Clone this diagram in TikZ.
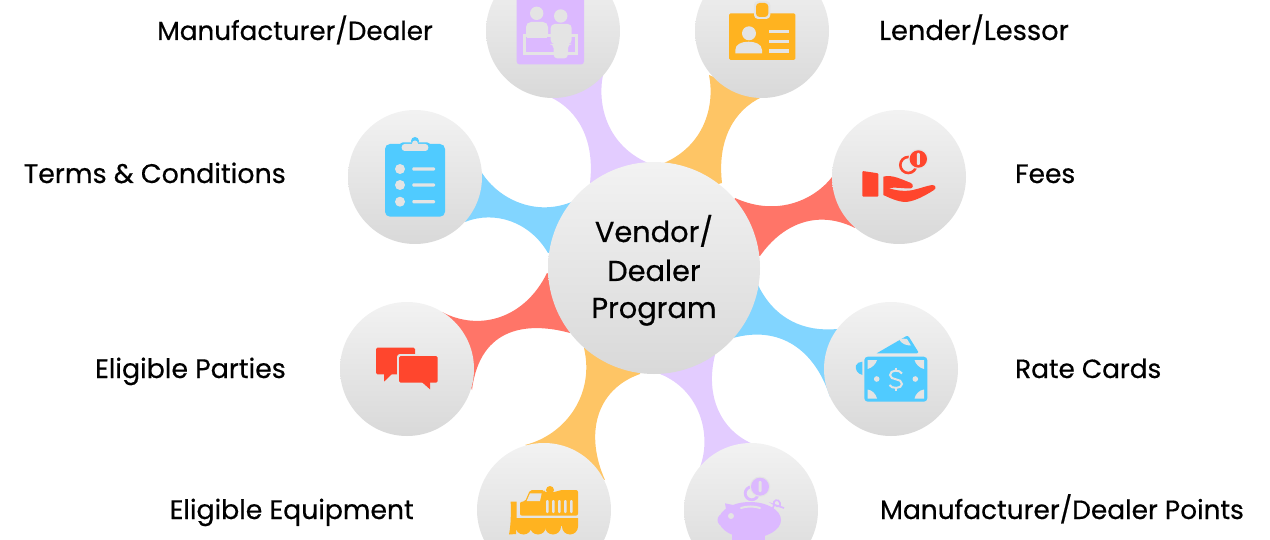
\documentclass[tikz,border=0pt]{standalone}
\usepackage{fontspec}
\setmainfont[RawFeature={embolden=0.5}]{Poppins}
\definecolor{cPur}{HTML}{E3CCFF}\definecolor{cOra}{HTML}{FEC565}
\definecolor{cCor}{HTML}{FF7568}\definecolor{cBlu}{HTML}{82D5FF}
\definecolor{iPur}{HTML}{DCB9FF}\definecolor{iOra}{HTML}{FFB320}
\definecolor{iRed}{HTML}{FF462D}\definecolor{iBlu}{HTML}{50CBFF}
\definecolor{hole}{HTML}{E4E4E4}
\newcommand{\fsz}[1]{\fontsize{#1pt}{32pt}\selectfont}
\tikzset{
 hub/.style={circle,inner sep=0pt,minimum size=134pt,top color=black!5,bottom color=black!15},
 core/.style={hub,minimum size=212pt,align=center},
 lab/.style={anchor=base west,inner sep=0pt,text=black},
 labr/.style={lab,anchor=base east},
 mid/.style={anchor=base,inner sep=0pt,font=\fsz{28.8}},
}
\begin{document}
\begin{tikzpicture}[x=1pt,y=-1pt]
\useasboundingbox (0,0) rectangle (1270,540);
\clip (0,0) rectangle (1270,540);
% connectors
\fill[cPur] (550,97) .. controls (578,110) and (595,140) .. (590,183) -- (650,200) -- (648,163) .. controls (607,145) and (597,105) .. (603,75) -- cycle;
\fill[cOra] (762,97) .. controls (734,110) and (717,140) .. (722,183) -- (662,200) -- (664,163) .. controls (705,145) and (715,105) .. (709,75) -- cycle;
\fill[cBlu] (482,173) .. controls (498,198) and (535,218) .. (574,201) -- (600,250) -- (548,253) .. controls (530,222) and (495,210) .. (465,222) -- cycle;
\fill[cCor] (832,177) .. controls (816,198) and (779,218) .. (735,198) -- (710,250) -- (760,256) .. controls (784,222) and (819,210) .. (855,228) -- cycle;
\fill[cCor] (442,312) .. controls (480,332) and (525,318) .. (547,273) -- (600,300) -- (570,333) .. controls (530,322) and (480,325) .. (472,390) -- cycle;
\fill[cBlu] (758,285) .. controls (775,320) and (805,332) .. (837,329) -- (830,397) .. controls (815,350) and (780,325) .. (733,338) -- (700,300) -- cycle;
\fill[cOra] (525,445) .. controls (565,435) and (595,395) .. (584,348) -- (640,340) -- (640,374) .. controls (595,390) and (585,435) .. (605,480) -- cycle;
\fill[cPur] (660,374) .. controls (700,390) and (712,435) .. (700,467) -- (753,444) .. controls (720,430) and (705,395) .. (715,355) -- (680,330) -- cycle;
% circles
\node[core] (c) at (654,268) {};
\node[hub] (h1) at (553,31) {};
\node[hub] (h2) at (762,31) {};
\node[hub] (h3) at (415,177) {};
\node[hub] (h4) at (899,177) {};
\node[hub] (h5) at (407,369) {};
\node[hub] (h6) at (891,369) {};
\node[hub] (h7) at (544,510) {};
\node[hub] (h8) at (751,510) {};
% centre text
\node[mid] (t1) at (654,242) {Vendor/};
\node[mid] (t2) at (654,281) {Dealer};
\node[mid] (t3) at (654,318) {Program};
% labels
\node[labr,font=\fsz{26.2}] (l1) at (433,40) {Manufacturer/Dealer};
\node[lab,font=\fsz{27.3}] (l2) at (879,40) {Lender/Lessor};
\node[labr,font=\fsz{26.9}] (l3) at (286,183) {Terms \& Conditions};
\node[lab,font=\fsz{26.5}] (l4) at (1015,183) {Fees};
\node[labr,font=\fsz{26.8}] (l5) at (286,378) {Eligible Parties};
\node[lab,font=\fsz{26.3}] (l6) at (1015,378) {Rate Cards};
\node[labr,font=\fsz{26.7}] (l7) at (414,519) {Eligible Equipment};
\node[lab,font=\fsz{26.4}] (l8) at (880,519) {Manufacturer/Dealer Points};
% icon: manufacturer/dealer
\fill[iPur,rounded corners=3pt] (516.7,-6) rectangle (584,64.5);
\fill[hole] (536.7,13.3) circle (6.7);
\fill[hole] (560.7,16) circle (6.7);
\draw[hole,line width=3pt] (524.3,36) rectangle (576.5,53.5);
\fill[hole,rounded corners=5pt] (526,40) -- (526,22) -- (548,22) -- (548,40) -- cycle;
\fill[iPur] (526,37.7) rectangle (551,52);
\fill[hole,rounded corners=4pt] (550.7,44) -- (550.7,24) -- (571.7,24) -- (571.7,44) -- (568,44) -- (568,58.5) -- (553.5,58.5) -- (553.5,44) -- cycle;
% icon: lender/lessor
\fill[iOra,rounded corners=1.5pt] (729,13.3) rectangle (795.3,60);
\fill[hole,rounded corners=4pt] (754,1) rectangle (770.3,19);
\fill[iOra,rounded corners=3.5pt] (756,3) rectangle (768.3,17);
\fill[hole] (749,33.3) circle (7);
\fill[hole] (735.3,53.3) -- (735.3,50) .. controls (735.3,44) and (742,41.7) .. (748.6,41.7) .. controls (755,41.7) and (762,44) .. (762,50) -- (762,53.3) -- cycle;
\foreach \yy in {31.7,41.7,51.3}{\fill[hole] (769,\yy-1.8) rectangle (789,\yy+1.8);}
% icon: clipboard
\fill[iBlu,rounded corners=5pt] (385,144) rectangle (445,216.7);
\fill[iBlu] (415,141) circle (4);
\fill[iBlu,rounded corners=3pt] (399.7,142.5) rectangle (430.3,152.5);
\fill[hole,rounded corners=3pt] (401.7,144) rectangle (428.3,151);
\fill[hole] (415,143.5) circle (3);
\foreach \yy in {169,185,201.7}{
 \fill[hole] (400,\yy) circle (5);
 \fill[hole,rounded corners=1pt] (412.3,\yy-1.6) rectangle (435,\yy+1.6);}
% icon: fees
\fill[iRed,rounded corners=1pt] (862.3,171) -- (878.3,173.3) -- (878.3,196.7) -- (862.3,196.7) -- cycle;
\fill[iRed] (883.3,176.7) .. controls (892,174) and (903,180) .. (911,183) .. controls (914,185) and (913,188.5) .. (910,188.5) .. controls (903,188.5) and (896,187) .. (889,188) .. controls (896,191) and (906,191.5) .. (913,190) .. controls (920,188.5) and (926,186) .. (932,185) .. controls (936,185) and (936.5,188.5) .. (934,190) .. controls (926,195) and (916,201) .. (906,202) .. controls (898,202) and (890,198) .. (883.3,195) -- cycle;
\draw[iRed,line width=2.6pt] (908.3,165) circle (8);
\fill[hole] (918.3,159) circle (10);
\fill[iRed] (918.3,159) circle (8.7);
\fill[hole,rounded corners=1pt] (916.8,153) rectangle (919.8,165);
% icon: parties
\fill[iRed,rounded corners=1.5pt] (376,347.7) rectangle (415,374.3);
\fill[iRed] (384,374) -- (384,381.7) -- (392,374) -- cycle;
\fill[hole,rounded corners=3pt] (397,354) rectangle (420,385);
\fill[iRed,rounded corners=1.5pt] (399,356) rectangle (437.7,382.7);
\fill[iRed] (421.7,382) -- (430,389.3) -- (430,382) -- cycle;
% icon: rate cards
\fill[iBlu] (876.7,353.3) -- (906,336.3) .. controls (907,335.7) and (908,336) .. (909,337) -- (918.3,352) .. controls (918.5,353) and (918,353.3) .. (917,353.3) -- cycle;
\fill[hole] (899,339.5) .. controls (903,338) and (905,339) .. (907,339) -- (911,345.5) .. controls (906,345.5) and (902,344) .. (899,339.5) -- cycle;
\fill[iBlu,rounded corners=3.5pt] (864.3,356.7) rectangle (927.3,401.7);
\fill[iBlu] (862.3,361.7) -- (862.3,375) .. controls (857,373.5) and (855,369) .. (856,365.5) .. controls (857,363) and (859,362) .. (862.3,361.7) -- cycle;
\fill[hole] (867.5,360) -- (877,360) .. controls (876,364) and (872,368) .. (867.5,369) -- cycle;
\fill[hole] (924,360) -- (914.5,360) .. controls (915.5,364) and (919.5,368) .. (924,369) -- cycle;
\fill[hole] (867.5,398.5) -- (877,398.5) .. controls (876,394) and (872,390) .. (867.5,389.5) -- cycle;
\fill[hole] (924,398.5) -- (914.5,398.5) .. controls (915.5,394) and (919.5,390) .. (924,389.5) -- cycle;
\fill[hole] (876.7,379) circle (2.8);
\fill[hole] (915.3,379) circle (2.8);
\draw[hole,line width=2pt] (902,373.5) .. controls (900,369.5) and (890,369.5) .. (890,375) .. controls (890,381) and (902,377.5) .. (902,384) .. controls (902,389) and (891,389) .. (889.5,385);
\draw[hole,line width=2pt] (895.8,367.5) -- (895.8,371) (895.8,387.5) -- (895.8,391);
% icon: train
\fill[iOra] (550,490) circle (4);
\fill[iOra,rounded corners=2pt] (520,515.7) -- (520,501.7) -- (525,501.7) -- (530,490) -- (544,490) -- (544,492) -- (556,492) -- (560,490) -- (578,490) -- (578,515.7) -- cycle;
\fill[hole] (526.7,501) -- (530,493.3) -- (541.7,493.3) -- (540,501) -- cycle;
\foreach \xx in {547.3,553.3,559.3,565.3,571.3}{\fill[hole,rounded corners=1pt] (\xx-1.2,500) rectangle (\xx+1.2,513);}
\fill[iOra] (510.7,501.7) -- (516.7,501.7) -- (516.7,518) -- (578,518) -- (578,526) -- (516,526) -- (516,534) -- (509,534.5) .. controls (511,525) and (511,512) .. (510.7,501.7) -- cycle;
\foreach \xx in {523.5,538,553,570}{\fill[iOra] (\xx,526.5) circle (8);}
% icon: piggy
\fill[iPur] (750,520) ellipse (31 and 18);
\fill[iPur] (725,503.3) -- (733,505) -- (735,515) -- (727,515) -- cycle;
\fill[iPur] (724,520) circle (6.5);
\fill[iPur] (731.7,525) rectangle (765,541);
\fill[hole] (731,516) circle (3);
\draw[hole,line width=2pt,line cap=round] (741,508) .. controls (747,506) and (754,506) .. (760,508);
\draw[iPur,line width=1.7pt] (772,511) .. controls (773,508) and (773,507) .. (774,505) .. controls (772,500) and (779,498) .. (780,503) .. controls (781,506) and (778,508) .. (775,505) -- (784,508);
\draw[iPur,line width=2.8pt] (751.7,493.3) circle (6.5);
\fill[hole] (760,486.7) circle (10.2);
\fill[iPur] (760,486.7) circle (9);
\fill[hole,rounded corners=1pt] (758.5,481) rectangle (761.5,492);
\end{tikzpicture}
\end{document}
